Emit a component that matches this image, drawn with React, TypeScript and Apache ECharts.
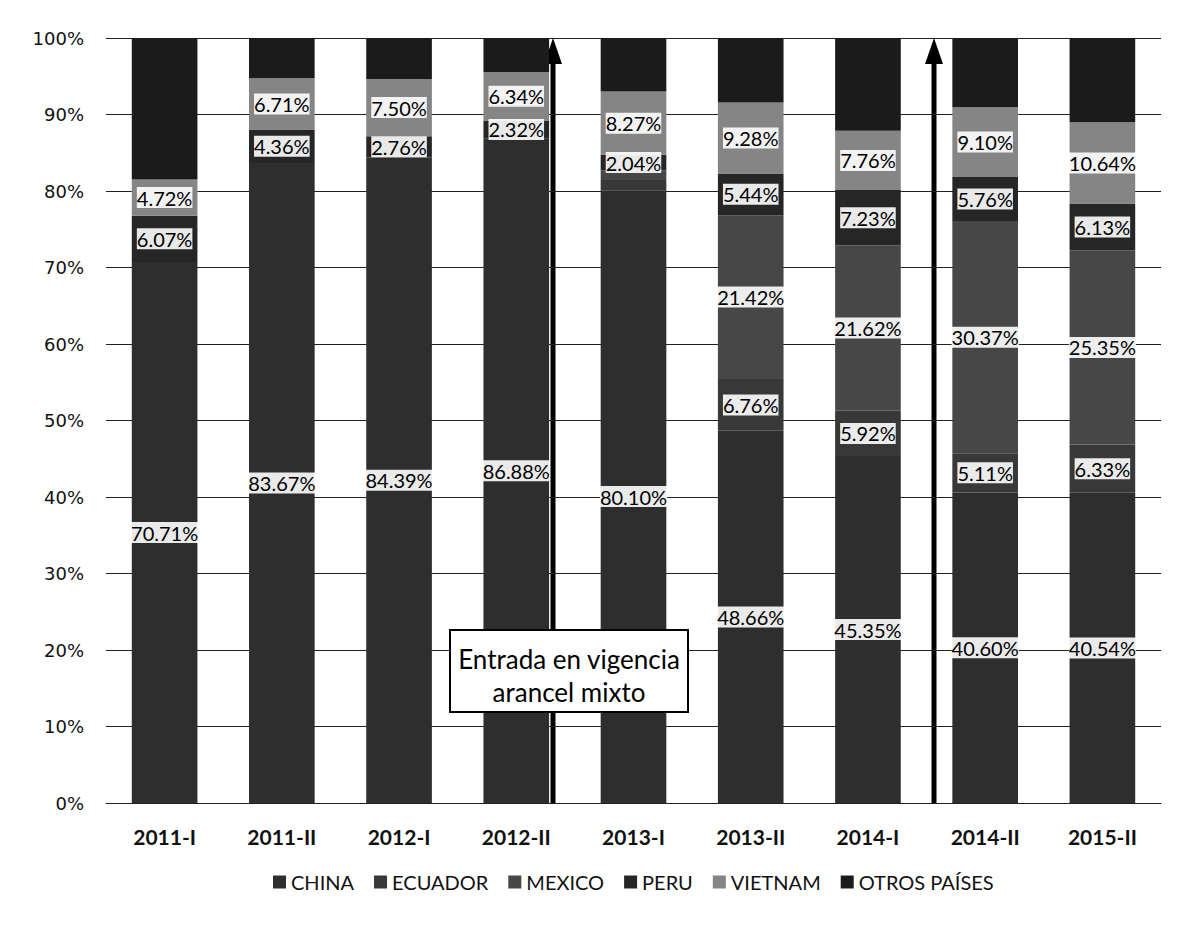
import React, { useEffect, useRef } from "react";
import * as echarts from "echarts";

const categories = ["2011-I", "2011-II", "2012-I", "2012-II", "2013-I", "2013-II", "2014-I", "2014-II", "2015-II"];
const seriesNames = ["CHINA", "ECUADOR", "MEXICO", "PERU", "VIETNAM", "OTROS PAÍSES"];
const china = [70.71, 83.67, 84.39, 86.88, 80.10, 48.66, 45.35, 40.60, 40.54];
const ecuador = [0, 0, 0, 0, 1.35, 6.76, 5.92, 5.11, 6.33];
const mexico = [0, 0, 0, 0, 1.24, 21.42, 21.62, 30.37, 25.35];
const peru = [6.07, 4.36, 2.76, 2.32, 2.04, 5.44, 7.23, 5.76, 6.13];
const vietnam = [4.72, 6.71, 7.50, 6.34, 8.27, 9.28, 7.76, 9.10, 10.64];
const otros = [18.50, 5.26, 5.35, 4.46, 7.00, 8.44, 12.12, 9.06, 11.01];
// labels that are not shown in the source (series, category)
const unlabeled = [["ECUADOR", "2013-I"], ["MEXICO", "2013-I"]];
const yTicks = [0, 10, 20, 30, 40, 50, 60, 70, 80, 90, 100];
const annotationText = ["Entrada en vigencia", "arancel mixto"];

const seriesValues = [china, ecuador, mexico, peru, vietnam, otros];
const colors = ["#2e2e2e", "#383838", "#474747", "#262626", "#858585", "#1b1b1b"];

export default function App() {
  const ref = useRef<HTMLDivElement>(null);
  useEffect(() => {
    if (!ref.current) return;
    const chart = echarts.init(ref.current, undefined, { renderer: "svg" });
    const series = seriesNames.map((name, si) => ({
      name,
      type: "bar",
      stack: "total",
      barWidth: "56%",
      itemStyle: { color: colors[si] },
      label: {
        show: name !== "OTROS PAÍSES",
        position: "inside",
        fontFamily: "Lato",
        fontSize: 20,
        color: "#000",
        backgroundColor: "rgba(255,255,255,0.9)",
        padding: [1, 0, 0, 0],
        formatter: (p: any) => {
          if (!p.value) return "";
          if (unlabeled.some(([s, c]) => s === name && c === p.name)) return "";
          return Number(p.value).toFixed(2) + "%";
        },
      },
      data: seriesValues[si],
    }));

    const arrow = (x: number) => [
      { type: "line", shape: { x1: x, y1: 803, x2: x, y2: 60 }, style: { stroke: "#000", lineWidth: 5 } },
      { type: "polygon", shape: { points: [[x - 9, 64], [x + 9, 64], [x, 38]] }, style: { fill: "#000" } },
    ];

    chart.setOption({
      animation: false,
      backgroundColor: "#fff",
      grid: { left: 106, right: 19, top: 38, bottom: 124 },
      legend: {
        top: 867,
        left: 268,
        icon: "rect",
        itemWidth: 13,
        itemHeight: 13,
        itemGap: 20,
        textStyle: { fontFamily: "Lato", fontSize: 20, color: "#111" },
        data: seriesNames,
      },
      xAxis: {
        type: "category",
        data: categories,
        axisTick: { show: false },
        axisLine: { lineStyle: { color: "#222", width: 1 } },
        axisLabel: { fontFamily: "Lato", fontWeight: "bold", fontSize: 21, color: "#111", margin: 23 },
      },
      yAxis: {
        type: "value",
        min: yTicks[0],
        max: yTicks[yTicks.length - 1],
        interval: 10,
        axisLine: { show: false },
        axisTick: { show: false },
        splitLine: { lineStyle: { color: "#222", width: 1 } },
        axisLabel: { fontFamily: "DejaVu Sans", fontSize: 18, color: "#111", margin: 22, formatter: "{value}%" },
      },
      series,
      graphic: [
        { type: "line", shape: { x1: 3, y1: 0, x2: 3, y2: 927 }, style: { stroke: "#999", lineWidth: 1, lineDash: [2, 3] } },
        { type: "line", shape: { x1: 0, y1: 3, x2: 1180, y2: 3 }, style: { stroke: "#999", lineWidth: 1, lineDash: [2, 3] } },
        ...arrow(553),
        ...arrow(934),
        { type: "rect", shape: { x: 450, y: 630, width: 238, height: 82 }, style: { fill: "#fff", stroke: "#000", lineWidth: 2 }, z: 100 },
        {
          type: "text", x: 569, y: 659, z: 101,
          style: { text: annotationText[0], fontFamily: "Lato", fontSize: 26, fill: "#000", align: "center", verticalAlign: "middle" },
        },
        {
          type: "text", x: 569, y: 692, z: 101,
          style: { text: annotationText[1], fontFamily: "Lato", fontSize: 26, fill: "#000", align: "center", verticalAlign: "middle" },
        },
      ],
    });
    return () => chart.dispose();
  }, []);
  return <div ref={ref} style={{ width: 1180, height: 927, margin: -8 }} />;
}
